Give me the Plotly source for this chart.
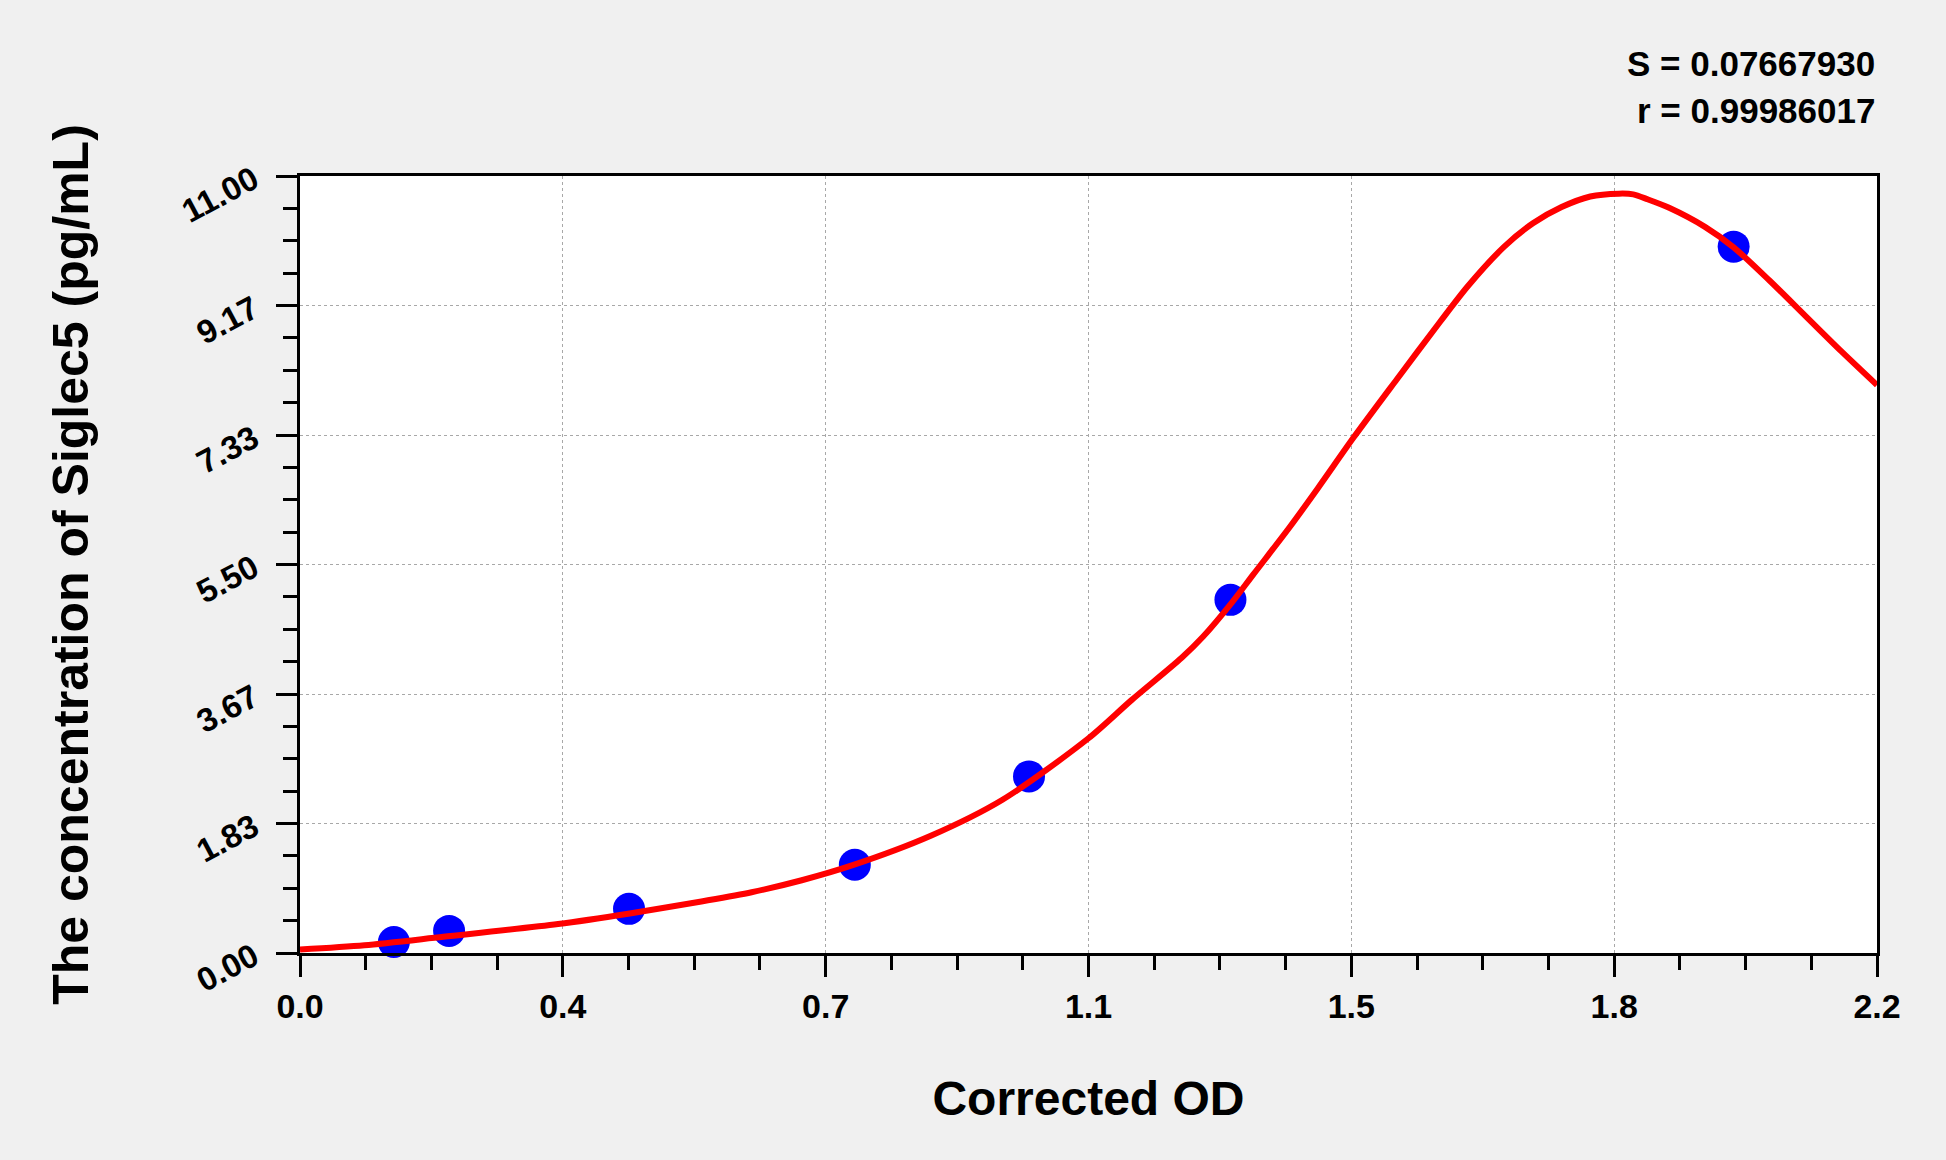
import plotly.graph_objects as go

# ---- data ----
std_od = [0.131, 0.208, 0.459, 0.774, 1.017, 1.298, 2.000]
std_conc = [0.156, 0.3125, 0.625, 1.25, 2.5, 5.0, 10.0]

curve_od = [0.00, 0.09, 0.20, 0.36, 0.46, 0.56, 0.63, 0.70, 0.77, 0.88, 0.98, 1.10, 1.16,
            1.23, 1.26, 1.30, 1.33, 1.38, 1.42, 1.47, 1.53, 1.59, 1.63, 1.68, 1.72, 1.76,
            1.80, 1.84, 1.86, 1.88, 1.91, 1.96, 2.00, 2.05, 2.10, 2.15, 2.20]
curve_conc = [0.05, 0.11, 0.23, 0.41, 0.56, 0.73, 0.86, 1.03, 1.24, 1.66, 2.17, 3.04, 3.58,
              4.18, 4.48, 4.96, 5.36, 6.02, 6.58, 7.30, 8.12, 8.93, 9.45, 10.00, 10.33, 10.56,
              10.71, 10.75, 10.74, 10.67, 10.55, 10.28, 9.99, 9.52, 9.02, 8.52, 8.04]

x_tick_labels = ["0.0", "0.4", "0.7", "1.1", "1.5", "1.8", "2.2"]
y_tick_labels = ["0.00", "1.83", "3.67", "5.50", "7.33", "9.17", "11.00"]
x_max = 2.2
y_max = 11.0

stats_text = ["S = 0.07667930", "r = 0.99986017"]
x_title = "Corrected OD"
y_title = "The concentration of Siglec5 (pg/mL)"

n_div = len(x_tick_labels) - 1
x_tickvals = [i * x_max / n_div for i in range(len(x_tick_labels))]
y_tickvals = [i * y_max / n_div for i in range(len(y_tick_labels))]

FONT = "Liberation Sans, Arial, sans-serif"

fig = go.Figure()
fig.add_trace(go.Scatter(
    x=std_od, y=std_conc, mode="markers",
    marker=dict(color="#0000ff", size=32, line=dict(width=0)),
    showlegend=False, cliponaxis=False))
fig.add_trace(go.Scatter(
    x=curve_od, y=curve_conc, mode="lines",
    line=dict(color="#ff0000", width=6, shape="spline", smoothing=0.8),
    showlegend=False))

axis_common = dict(
    showline=True, linecolor="black", linewidth=3, mirror=True,
    ticks="outside", ticklen=21, tickwidth=3, tickcolor="black",
    showgrid=True, gridcolor="#a8a8a8", gridwidth=1, griddash="dot",
    zeroline=False,
)

fig.update_xaxes(
    range=[0, x_max], tickmode="array", tickvals=x_tickvals, ticktext=x_tick_labels,
    tickfont=dict(family=FONT, size=34, color="black", weight="bold"),
    minor=dict(tickmode="linear", tick0=0, dtick=x_max / (n_div * 4),
               ticks="outside", ticklen=14, tickwidth=3, tickcolor="black", showgrid=False),
    title=dict(text=x_title, font=dict(family=FONT, size=48, color="black", weight="bold"),
               standoff=58),
    **axis_common)

fig.update_yaxes(
    range=[0, y_max], tickmode="array", tickvals=y_tickvals, ticktext=y_tick_labels,
    tickangle=-28, ticklabelstandoff=16,
    tickfont=dict(family=FONT, size=33, color="black", weight="bold"),
    minor=dict(tickmode="linear", tick0=0, dtick=y_max / (n_div * 4),
               ticks="outside", ticklen=14, tickwidth=3, tickcolor="black", showgrid=False),
    title=dict(text=y_title, font=dict(family=FONT, size=50, color="black", weight="bold"),
               standoff=72),
    **axis_common)

fig.add_annotation(text=stats_text[0], xref="paper", yref="paper", x=1.0, y=1.145,
                   xanchor="right", yanchor="middle", showarrow=False,
                   font=dict(family=FONT, size=35, color="black", weight="bold"))
fig.add_annotation(text=stats_text[1], xref="paper", yref="paper", x=1.0, y=1.084,
                   xanchor="right", yanchor="middle", showarrow=False,
                   font=dict(family=FONT, size=35, color="black", weight="bold"))

fig.update_layout(
    width=1946, height=1160,
    paper_bgcolor="#f0f0f0", plot_bgcolor="white",
    margin=dict(l=300, r=69, t=176, b=207, autoexpand=False),
    showlegend=False,
)

fig.write_html("out.html", config={"displayModeBar": False},
               post_script="document.body.style.margin='0';document.body.style.background='#f0f0f0';")
